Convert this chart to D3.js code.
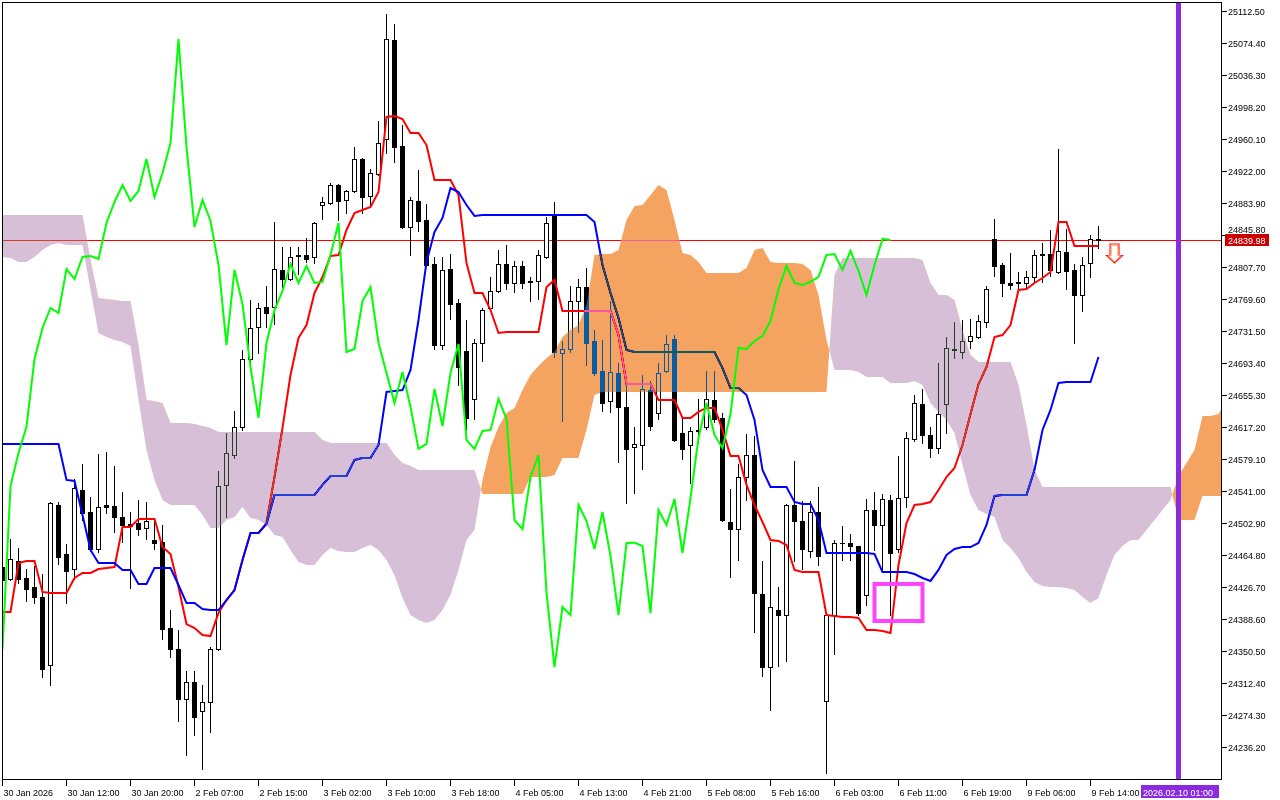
<!DOCTYPE html>
<html><head><meta charset="utf-8">
<script src="https://cdn.jsdelivr.net/npm/d3@7"></script>
<style>html,body{margin:0;padding:0;background:#fff;} svg{display:block;}</style>
</head><body>
<svg id="c" width="1280" height="800"></svg>
<script>
// ---------- DATA (H1 bars, index 0 = 30 Jan 2026 00:00) ----------
const candleOpen = [24450.5,24436.2,24457.7,24437.4,24426.7,24414.8,24333.8,24524.3,24466.0,24448.1,
24542.2,24516.0,24472.0,24524.3,24523.2,24510.1,24501.7,24502.9,24497.0,24482.7,
24480.3,24377.9,24352.9,24293.3,24313.6,24279.1,24289.8,24352.9,24548.2,24583.9,
24617.3,24698.2,24736.3,24760.1,24760.1,24804.2,24793.4,24822.0,24822.0,24819.6,
24881.5,24883.9,24905.3,24887.5,24898.2,24936.3,24892.2,24918.4,24960.1,25078.0,
24951.7,24855.4,24886.3,24863.7,24811.3,24714.8,24805.3,24764.8,24707.7,24650.5,
24717.2,24758.9,24779.2,24811.3,24788.7,24808.9,24791.1,24791.1,24819.6,24868.5,
24705.3,24710.1,24767.2,24783.9,24719.6,24683.9,24648.2,24681.5,24641.1,24593.4,
24595.8,24661.2,24633.9,24683.9,24722.0,24610.1,24595.8,24612.5,24617.3,24649.4,
24628.0,24504.1,24495.8,24557.7,24583.9,24418.4,24331.4,24399.3,24393.3,24524.3,
24505.3,24469.6,24516.0,24291.0,24393.3,24479.1,24479.1,24475.5,24417.2,24518.4,
24500.5,24530.3,24472.0,24533.9,24603.0,24644.6,24607.7,24592.3,24644.6,24708.9,
24706.5,24719.6,24724.3,24742.2,24841.1,24810.1,24788.7,24788.7,24788.7,24795.8,
24822.0,24823.2,24801.8,24825.6,24804.2,24774.4,24812.5,24841.0];
const candleHigh = [24458.9,24483.9,24473.2,24448.1,24451.7,24442.2,24527.9,24527.9,24477.9,24555.3,
24573.2,24533.9,24585.1,24587.5,24570.8,24539.9,24516.0,24530.3,24527.9,24505.3,
24500.5,24399.3,24375.5,24326.7,24326.7,24310.0,24355.2,24564.9,24610.1,24636.3,
24708.9,24768.4,24764.8,24785.1,24861.3,24831.5,24831.5,24831.5,24842.3,24861.3,
24891.0,24907.7,24906.5,24899.3,24950.5,24937.4,24924.3,24981.5,25108.9,25097.0,
24976.7,24891.0,24923.2,24882.7,24819.6,24819.6,24823.2,24769.6,24744.6,24722.0,
24758.9,24795.8,24828.0,24833.9,24814.9,24814.9,24795.8,24828.0,24867.3,24885.1,
24719.6,24785.1,24793.4,24806.5,24732.7,24720.8,24767.2,24693.4,24674.3,24617.3,
24679.1,24672.0,24693.4,24726.7,24726.7,24626.8,24617.3,24650.5,24683.9,24683.9,
24633.9,24543.4,24573.2,24608.9,24606.5,24457.7,24480.3,24426.7,24525.5,24576.8,
24529.1,24529.1,24545.8,24394.5,24482.7,24499.3,24489.8,24476.0,24531.5,24539.9,
24537.5,24536.3,24582.7,24611.3,24655.3,24662.4,24617.3,24693.4,24724.3,24742.2,
24744.6,24745.8,24750.5,24785.1,24864.9,24812.5,24824.4,24801.8,24803.0,24828.0,
24836.3,24851.8,24948.2,24853.0,24811.3,24819.6,24845.8,24856.5];
const candleLow = [24429.1,24435.1,24431.5,24410.0,24407.6,24319.5,24310.0,24454.1,24407.6,24436.2,
24506.5,24469.6,24468.4,24514.8,24492.2,24480.3,24425.5,24488.6,24483.9,24472.0,
24364.8,24343.3,24267.2,24226.7,24250.5,24210.0,24254.1,24351.7,24510.1,24580.3,
24613.7,24693.4,24705.3,24736.3,24739.8,24783.9,24792.3,24799.4,24813.7,24812.5,
24864.9,24882.7,24863.7,24872.0,24897.0,24872.0,24881.5,24917.5,24943.4,24932.7,
24854.5,24822.0,24850.6,24809.0,24710.1,24710.1,24745.8,24667.2,24613.7,24626.8,
24695.8,24758.0,24778.5,24781.5,24778.0,24782.7,24767.2,24769.6,24819.0,24700.5,
24624.4,24706.5,24730.3,24691.0,24679.1,24636.3,24635.1,24575.6,24526.7,24538.7,
24567.2,24613.7,24626.8,24683.0,24600.0,24579.2,24550.6,24598.2,24614.9,24623.2,
24505.0,24438.6,24458.9,24530.3,24373.1,24320.7,24280.3,24332.6,24338.6,24457.7,
24448.1,24462.4,24452.9,24205.3,24346.9,24458.9,24458.9,24393.3,24405.2,24470.8,
24444.6,24393.3,24468.4,24522.0,24600.6,24598.2,24581.5,24586.3,24610.1,24699.3,
24699.3,24711.3,24723.5,24736.3,24797.0,24773.2,24781.5,24780.3,24782.7,24789.9,
24789.9,24797.0,24801.0,24781.5,24717.2,24755.3,24795.8,24830.4];
const candleClose = [24435.1,24460.1,24436.2,24424.3,24414.8,24329.0,24526.7,24462.4,24445.8,24544.6,
24514.8,24472.0,24522.0,24522.0,24510.1,24500.5,24499.3,24495.8,24505.3,24479.1,
24376.7,24352.9,24293.3,24313.6,24272.0,24289.8,24352.9,24547.0,24586.3,24617.3,
24698.2,24735.1,24758.9,24752.9,24805.3,24793.4,24819.6,24820.8,24817.3,24860.1,
24885.1,24905.3,24886.3,24898.2,24936.3,24891.0,24919.6,24955.3,25079.2,24950.5,
24855.4,24887.5,24862.5,24810.1,24714.8,24804.2,24763.6,24688.6,24628.0,24717.2,
24756.5,24779.2,24811.3,24788.7,24808.9,24788.7,24789.9,24822.0,24860.1,24706.5,
24710.1,24767.2,24783.9,24717.2,24681.5,24645.8,24682.7,24641.1,24591.1,24597.0,
24662.4,24618.4,24681.5,24716.0,24601.5,24591.1,24612.5,24613.7,24650.5,24626.8,
24506.0,24495.8,24557.7,24583.9,24419.6,24331.4,24402.9,24393.3,24524.3,24505.3,
24472.0,24516.0,24463.6,24393.3,24479.1,24479.5,24475.5,24395.7,24518.4,24500.5,
24531.5,24467.2,24532.7,24604.2,24645.8,24607.7,24592.3,24632.7,24711.3,24710.1,
24719.6,24725.5,24743.4,24781.5,24808.9,24788.7,24786.3,24789.9,24796.1,24822.0,
24823.2,24804.2,24826.8,24803.0,24774.4,24810.1,24841.1,24839.98];
const tenkanSen = [24396.9,24396.9,24455.3,24457.7,24457.7,24420.8,24419.6,24419.6,24419.6,24437.4,
24443.4,24443.4,24448.1,24449.3,24450.5,24498.2,24498.2,24507.7,24507.7,24507.7,
24474.3,24466.0,24426.7,24382.6,24377.9,24369.5,24368.3,24395.7,24411.2,24423.1,
24458.9,24491.0,24491.0,24502.9,24557.7,24616.1,24679.1,24723.2,24738.6,24776.8,
24795.8,24820.8,24822.0,24851.8,24872.0,24875.6,24879.2,24897.0,24986.3,24987.5,
24983.9,24967.2,24967.2,24952.9,24911.3,24911.3,24911.3,24893.4,24812.5,24776.8,
24776.8,24756.5,24729.1,24730.3,24730.3,24730.3,24730.3,24730.3,24783.9,24792.3,
24755.3,24755.3,24755.3,24755.3,24755.3,24755.3,24755.3,24726.7,24668.4,24668.4,
24668.4,24668.4,24649.4,24649.4,24649.4,24628.0,24628.0,24635.1,24639.9,24639.9,
24613.7,24582.7,24582.7,24548.2,24524.3,24504.1,24482.7,24481.5,24476.7,24447.0,
24444.6,24444.6,24444.6,24393.3,24392.2,24391.0,24391.0,24389.8,24375.5,24375.5,
24374.3,24371.9,24452.9,24502.9,24524.3,24525.5,24527.9,24542.2,24557.7,24568.4,
24595.8,24632.7,24668.4,24688.6,24724.3,24726.7,24738.6,24780.3,24781.5,24788.7,
24794.6,24801.8,24861.3,24861.3,24832.7,24832.7,24832.7,24832.7];
const kijunSen = [24597.0,24597.0,24597.0,24597.0,24597.0,24597.0,24597.0,24597.0,24554.2,24553.0,
24512.4,24470.8,24455.3,24455.3,24455.3,24447.0,24447.0,24430.3,24430.3,24449.3,
24449.3,24449.3,24429.1,24407.6,24407.6,24400.5,24399.3,24399.3,24411.2,24423.1,
24458.9,24491.0,24491.0,24501.7,24536.3,24536.3,24536.3,24536.3,24536.3,24536.3,
24548.2,24558.9,24558.9,24558.9,24578.0,24580.3,24580.3,24595.8,24658.9,24660.1,
24661.2,24685.1,24744.6,24813.7,24849.4,24866.1,24901.7,24897.0,24881.5,24868.5,
24869.6,24869.6,24869.6,24869.6,24869.6,24869.6,24869.6,24869.6,24869.6,24869.6,
24869.6,24869.6,24869.6,24869.6,24861.3,24810.1,24776.8,24747.0,24708.9,24706.5,
24706.5,24706.5,24706.5,24706.5,24706.5,24706.5,24706.5,24706.5,24706.5,24706.5,
24687.4,24663.6,24663.6,24655.3,24625.6,24566.1,24545.8,24545.8,24545.8,24527.9,
24525.5,24525.5,24506.5,24467.2,24467.2,24467.2,24467.2,24467.2,24467.2,24466.0,
24444.6,24444.6,24444.6,24444.6,24442.2,24437.4,24433.9,24447.0,24464.8,24472.0,
24474.3,24474.3,24479.1,24500.5,24535.1,24536.3,24536.3,24536.3,24536.3,24566.1,
24613.7,24637.5,24669.6,24670.8,24670.8,24670.8,24670.8,24700.5];
const chikouSpan = [24352.9,24547.0,24586.3,24617.3,24698.2,24735.1,24758.9,24752.9,24805.3,24793.4,
24819.6,24820.8,24817.3,24860.1,24885.1,24905.3,24886.3,24898.2,24936.3,24891.0,
24919.6,24955.3,25079.2,24950.5,24855.4,24887.5,24862.5,24810.1,24714.8,24804.2,
24763.6,24688.6,24628.0,24717.2,24756.5,24779.2,24811.3,24788.7,24808.9,24788.7,
24789.9,24822.0,24860.1,24706.5,24710.1,24767.2,24783.9,24717.2,24681.5,24645.8,
24682.7,24641.1,24591.1,24597.0,24662.4,24618.4,24681.5,24716.0,24601.5,24591.1,
24612.5,24613.7,24650.5,24626.8,24506.0,24495.8,24557.7,24583.9,24419.6,24331.4,
24402.9,24393.3,24524.3,24505.3,24472.0,24516.0,24463.6,24393.3,24479.1,24479.5,
24475.5,24395.7,24518.4,24500.5,24531.5,24467.2,24532.7,24604.2,24645.8,24607.7,
24592.3,24632.7,24711.3,24710.1,24719.6,24725.5,24743.4,24781.5,24808.9,24788.7,
24786.3,24789.9,24796.1,24822.0,24823.2,24804.2,24826.8,24803.0,24774.4,24810.1,
24841.1,24839.98];
const senkouSpanA = [24819.6,24818.4,24813.7,24813.7,24819.6,24828.0,24833.9,24836.3,24833.9,24833.9,
24833.9,24780.3,24729.1,24724.3,24720.8,24718.4,24713.6,24649.4,24589.9,24554.2,
24530.3,24524.3,24524.3,24524.3,24524.3,24512.4,24497.0,24497.0,24506.5,24510.1,
24522.0,24508.9,24506.5,24500.5,24488.6,24486.2,24470.8,24456.5,24452.9,24452.9,
24464.8,24473.2,24469.6,24468.4,24468.4,24473.2,24476.7,24470.8,24458.9,24441.0,
24413.6,24393.3,24387.4,24383.8,24387.4,24399.3,24417.2,24447.0,24482.7,24494.6,
24554.2,24593.4,24617.3,24633.9,24639.9,24661.2,24679.1,24689.8,24699.3,24706.5,
24724.3,24732.7,24738.6,24762.0,24822.0,24823.2,24823.2,24828.0,24863.7,24880.3,
24881.5,24893.4,24905.3,24899.3,24863.7,24824.4,24822.0,24813.7,24800.6,24800.6,
24800.6,24800.6,24800.6,24806.5,24828.0,24830.4,24813.7,24812.5,24812.5,24812.5,
24811.3,24804.2,24774.4,24720.8,24685.1,24685.1,24685.1,24682.7,24676.7,24676.7,
24676.7,24669.6,24669.6,24669.6,24672.0,24667.2,24645.8,24635.1,24625.6,24610.1,
24572.0,24536.3,24518.4,24513.6,24510.1,24482.7,24473.2,24461.2,24444.6,24432.7,
24428.0,24426.7,24426.7,24425.5,24423.1,24414.8,24407.6,24413.6,24441.0,24464.8,
24475.5,24482.7,24482.7,24494.6,24506.5,24518.4,24530.3,24558.9,24574.4,24589.9,
24630.4,24630.4,24632.7,24649.4];
const senkouSpanB = [24869.6,24869.6,24869.6,24869.6,24869.6,24869.6,24869.6,24869.6,24869.6,24869.6,
24869.6,24816.1,24770.8,24769.6,24768.4,24767.2,24767.2,24714.8,24649.4,24648.2,
24645.8,24622.0,24622.0,24622.0,24620.8,24618.4,24616.1,24611.3,24611.3,24611.3,
24611.3,24611.3,24611.3,24611.3,24611.3,24611.3,24611.3,24611.3,24611.3,24611.3,
24601.8,24598.2,24598.2,24598.2,24598.2,24598.2,24598.2,24598.2,24598.2,24583.9,
24574.4,24570.8,24566.1,24566.1,24566.1,24566.1,24566.1,24566.1,24566.1,24566.1,
24537.5,24537.5,24537.5,24537.5,24537.5,24537.5,24557.7,24557.7,24557.7,24560.1,
24580.3,24580.3,24580.3,24613.7,24655.3,24658.9,24658.9,24658.9,24658.9,24658.9,
24658.9,24658.9,24658.9,24658.9,24658.9,24658.9,24658.9,24658.9,24658.9,24658.9,
24658.9,24658.9,24658.9,24658.9,24658.9,24658.9,24658.9,24658.9,24658.9,24658.9,
24658.9,24658.9,24658.9,24658.9,24798.2,24818.4,24818.4,24818.4,24818.4,24818.4,
24818.4,24818.4,24818.4,24818.4,24818.4,24816.1,24788.7,24774.4,24774.4,24768.4,
24732.7,24702.9,24694.6,24694.6,24694.6,24694.6,24694.6,24667.2,24619.6,24566.1,
24545.8,24545.8,24545.8,24545.8,24545.8,24545.8,24545.8,24545.8,24545.8,24545.8,
24545.8,24545.8,24545.8,24545.8,24545.8,24545.8,24545.8,24506.5,24506.5,24506.5,
24535.1,24535.1,24535.1,24535.1];
const priceTicks = [25112.5,25074.4,25036.3,24998.2,24960.1,24922.0,24883.9,24845.8,24807.7,24769.6,
24731.5,24693.4,24655.3,24617.2,24579.1,24541.0,24502.9,24464.8,24426.7,24388.6,24350.5,24312.4,24274.3,24236.2];
const timeLabels = ["30 Jan 2026","30 Jan 12:00","30 Jan 20:00","2 Feb 07:00","2 Feb 15:00","3 Feb 02:00",
"3 Feb 10:00","3 Feb 18:00","4 Feb 05:00","4 Feb 13:00","4 Feb 21:00","5 Feb 08:00","5 Feb 16:00",
"6 Feb 03:00","6 Feb 11:00","6 Feb 19:00","9 Feb 06:00","9 Feb 14:00"];
const timeLabelBars = [0,8,16,24,32,40,48,56,64,72,80,88,96,104,112,120,128,136];
const currentPrice = 24839.98;
const markerBar = 147, markerLabel = "2026.02.10 01:00";
const boxBars = [109,115], boxPrices = [24430.3,24386.2];
const arrowBar = 139, arrowPrice = 24835.0;

// ---------- CHART ----------
const W = 1280, H = 800;
const svg = d3.select('#c');
const x = d3.scaleLinear().domain([0,152]).range([2.5,1218.5]);
const y = d3.scaleLinear().domain([24236.2,25112.5]).range([747,11]);
const sy = v => Math.round(y(v)) + 0.5;
const FONT = '"Liberation Sans", Arial, sans-serif';

svg.append('rect').attr('width',W).attr('height',H).attr('fill','#fff');
const defs = svg.append('defs');
defs.append('clipPath').attr('id','plotClip').append('rect').attr('x',3).attr('y',3).attr('width',1218).attr('height',776);

// current price line
svg.append('line').attr('x1',3).attr('x2',1221).attr('y1',sy(currentPrice)).attr('y2',sy(currentPrice))
  .attr('stroke','#ff0000').attr('stroke-width',1);

// candles
const gC = svg.append('g').attr('clip-path','url(#plotClip)');
candleOpen.forEach((o,i) => {
  const h = candleHigh[i], l = candleLow[i], c = candleClose[i];
  const cx = x(i);
  gC.append('line').attr('x1',cx).attr('x2',cx).attr('y1',Math.round(y(h))).attr('y2',Math.round(y(l))+1)
    .attr('stroke','#000').attr('stroke-width',1);
  const yo = Math.round(y(o)), yc = Math.round(y(c));
  const top = Math.min(yo,yc), bot = Math.max(yo,yc);
  if (bot - top < 1) {
    gC.append('line').attr('x1',cx-2.5).attr('x2',cx+2.5).attr('y1',top+0.5).attr('y2',top+0.5)
      .attr('stroke','#000').attr('stroke-width',1);
  } else {
    gC.append('rect').attr('x',cx-2).attr('y',top+0.5).attr('width',4).attr('height',bot-top)
      .attr('fill', c >= o ? '#fff' : '#000').attr('stroke','#000').attr('stroke-width',1);
  }
});

const line = d3.line().x((d,i)=>x(i)).y(d=>y(d));
const gL = svg.append('g').attr('clip-path','url(#plotClip)');
gL.append('path').attr('d',line(tenkanSen)).attr('fill','none').attr('stroke','#ff0000').attr('stroke-width',2);
gL.append('path').attr('d',line(kijunSen)).attr('fill','none').attr('stroke','#0000ff').attr('stroke-width',2);

// kumo (drawn in "difference" mode like the platform does)
const ci = d3.range(senkouSpanA.length);
const areaAB = d3.area().x(i=>x(i)).y0(i=>y(senkouSpanA[i])).y1(i=>y(senkouSpanB[i]));
const aboveB = d3.area().x(i=>x(i)).y0(-20).y1(i=>y(senkouSpanB[i]));
const belowB = d3.area().x(i=>x(i)).y0(i=>y(senkouSpanB[i])).y1(900);
defs.append('clipPath').attr('id','cAbove').append('path').attr('d',aboveB(ci));
defs.append('clipPath').attr('id','cBelow').append('path').attr('d',belowB(ci));
svg.append('path').attr('d',areaAB(ci)).attr('fill','#0b5b9f').attr('clip-path','url(#cAbove)')
  .style('mix-blend-mode','difference');
svg.append('path').attr('d',areaAB(ci)).attr('fill','#274027').attr('clip-path','url(#cBelow)')
  .style('mix-blend-mode','difference');

// chikou span
const gK = svg.append('g').attr('clip-path','url(#plotClip)');
gK.append('path').attr('d',line(chikouSpan)).attr('fill','none').attr('stroke','#00ff00').attr('stroke-width',2);

// annotations
svg.append('rect').attr('x',x(boxBars[0])).attr('y',y(boxPrices[0]))
  .attr('width',x(boxBars[1])-x(boxBars[0])).attr('height',y(boxPrices[1])-y(boxPrices[0]))
  .attr('fill','none').attr('stroke','#ff44ff').attr('stroke-width',4);
const ax = x(arrowBar), ay = Math.round(y(arrowPrice));
const arrowPath = (cx,t,s,hw,sh,tip) => `M${cx-s},${t}L${cx+s},${t}L${cx+s},${t+sh}L${cx+hw},${t+sh}L${cx},${t+tip}L${cx-hw},${t+sh}L${cx-s},${t+sh}Z`;
svg.append('path').attr('d',arrowPath(ax,ay,4.5,8,11.5,19)).attr('fill','#fff').attr('stroke','#ff1a1a').attr('stroke-width',1.2);
svg.append('path').attr('d',arrowPath(ax,ay+1.3,3.2,5.8,10.4,16.3)).attr('fill','none').attr('stroke','#ffb070').attr('stroke-width',1);

// vertical marker line
svg.append('rect').attr('x',x(markerBar)-2.5).attr('y',3).attr('width',5).attr('height',776).attr('fill','#8a2be2');

// cover right of plot
svg.append('rect').attr('x',1222).attr('y',0).attr('width',58).attr('height',H).attr('fill','#fff');
svg.append('rect').attr('x',0).attr('y',780).attr('width',W).attr('height',20).attr('fill','#fff');

// frame
svg.append('rect').attr('x',2.5).attr('y',2.5).attr('width',1219).attr('height',777)
  .attr('fill','none').attr('stroke','#000').attr('stroke-width',1);

// price axis
const cp = sy(currentPrice);
const boxTop = cp - 6.5, boxBot = cp + 5.5;
const gY = svg.append('g').attr('font-family',FONT).attr('font-size',9).attr('fill','#000');
priceTicks.forEach(v => {
  const yy = sy(v);
  gY.append('line').attr('x1',1222).attr('x2',1227).attr('y1',yy).attr('y2',yy).attr('stroke','#000');
  let base = yy + 3.5;
  // a label that would sit under the current-price tag is nudged just above it
  if (base > boxTop && yy - 4 < boxBot) base = boxTop - 1;
  gY.append('text').attr('x',1228).attr('y',base).text(v.toFixed(2));
});
// current price label
svg.append('rect').attr('x',1225).attr('y',boxTop).attr('width',44).attr('height',12).attr('fill','#c80000');
svg.append('text').attr('x',1228).attr('y',cp+3.5).attr('font-family',FONT).attr('font-size',9)
  .attr('fill','#fff').text(currentPrice.toFixed(2));

// time axis
const gX = svg.append('g').attr('font-family',FONT).attr('font-size',9).attr('fill','#000');
timeLabelBars.forEach((b,k) => {
  const xx = x(b);
  gX.append('line').attr('x1',xx).attr('x2',xx).attr('y1',780).attr('y2',786).attr('stroke','#000');
  gX.append('text').attr('x',xx+1).attr('y',796).text(timeLabels[k]);
});
svg.append('rect').attr('x',1141).attr('y',785).attr('width',78).attr('height',13).attr('fill','#8a2be2');
svg.append('text').attr('x',1143).attr('y',795.5).attr('font-family',FONT).attr('font-size',9)
  .attr('fill','#fff').text(markerLabel);
</script>
</body></html>
